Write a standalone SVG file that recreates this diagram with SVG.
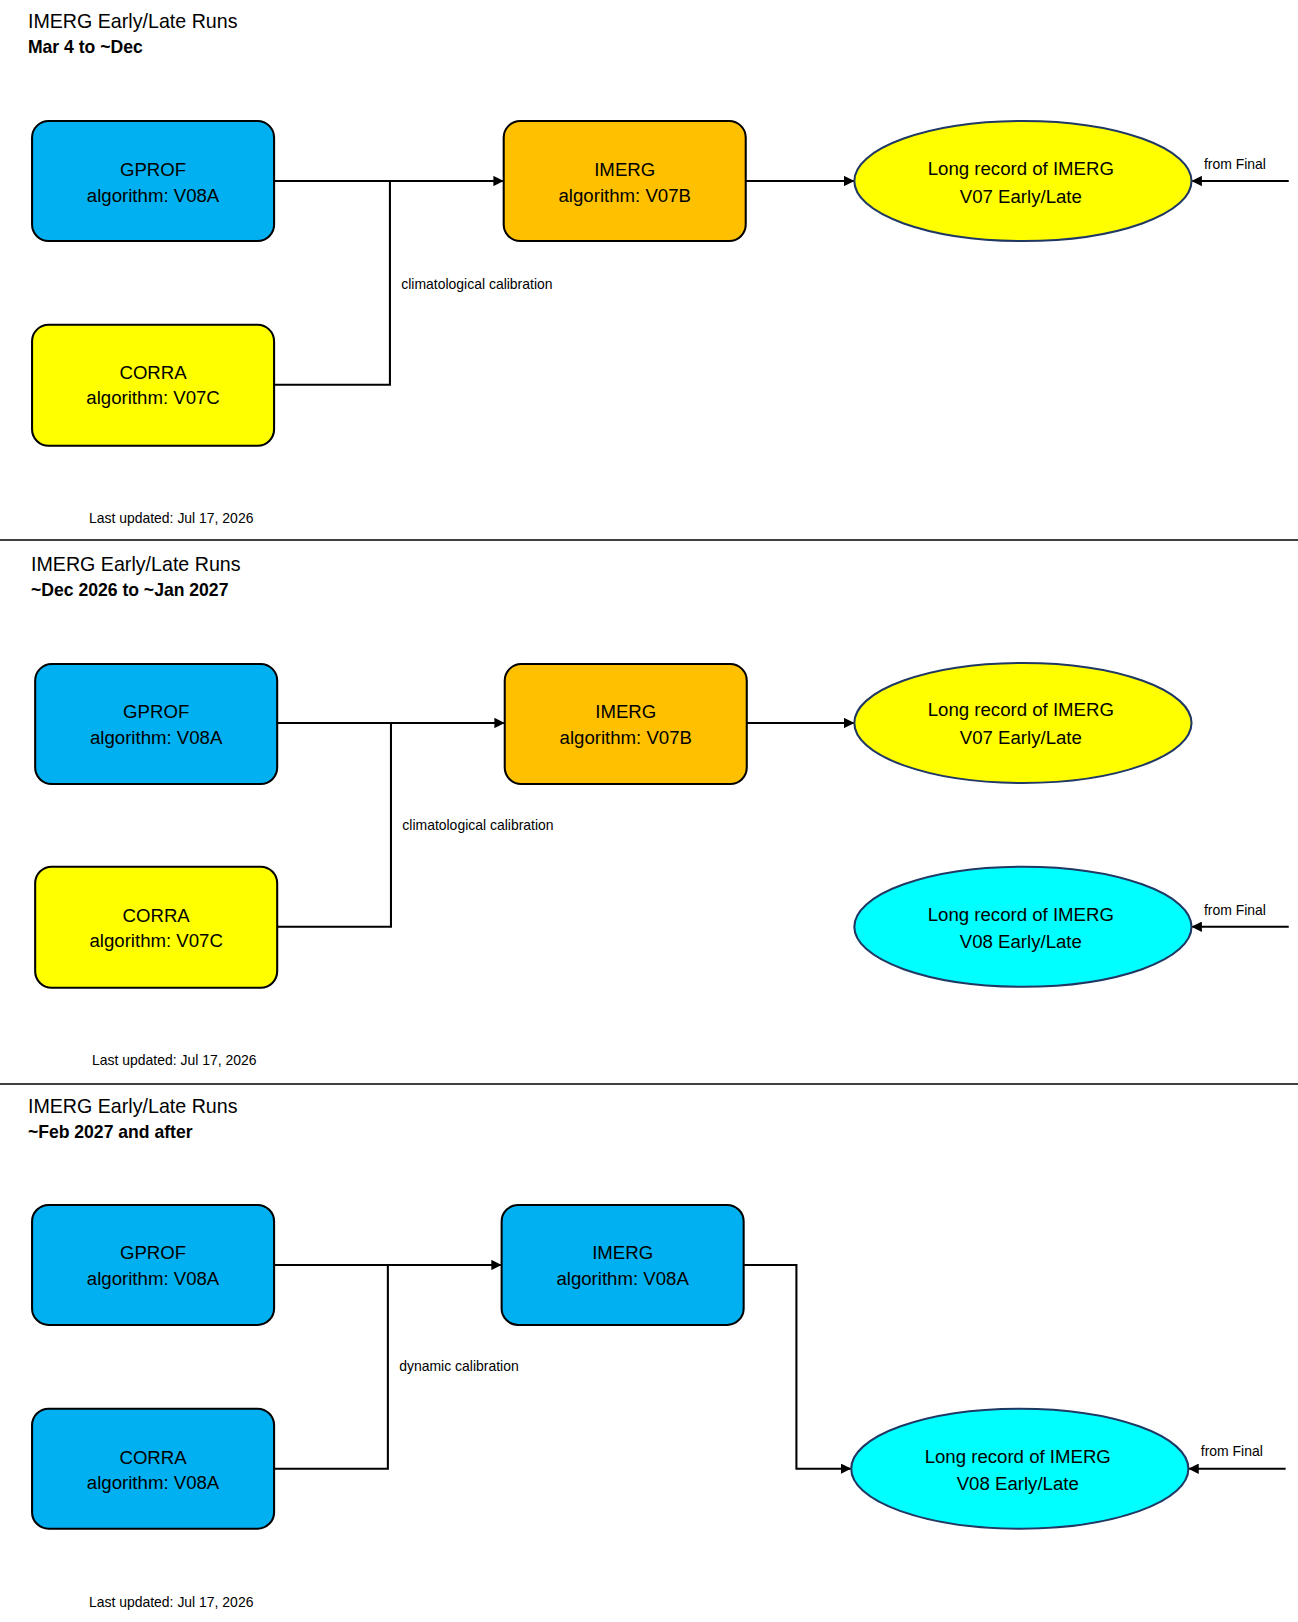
<svg xmlns="http://www.w3.org/2000/svg" width="1298" height="1622" viewBox="0 0 1298 1622">
<style>
text{font-family:"Liberation Sans",Arial,sans-serif;fill:#000}
.t{font-size:19px}.s{font-size:17px;font-weight:bold}
.n{font-size:18px;text-anchor:middle}
.l{font-size:13.5px}
.box{stroke:#000;stroke-width:2}
.c{fill:none;stroke:#000;stroke-width:2}
.b{fill:#00B0F0}.o{fill:#FFC000}.y{fill:#FFFF00}.cy{fill:#00FFFF}
.e{stroke:#1F3864;stroke-width:2}
</style>
<defs><marker id="a" viewBox="0 0 10 10" refX="9" refY="5" markerWidth="5" markerHeight="5" orient="auto"><path d="M0,0L10,5L0,10z" fill="#000"/></marker></defs>
<rect width="1298" height="1622" fill="#fff"/>
<g transform="scale(1.0343)">
<!-- Panel 1 -->
<g id="p1-title"><text class="t" x="27" y="27">IMERG Early/Late Runs</text><text class="s" x="27" y="51">Mar 4 to ~Dec</text></g>
<g id="p1-gprof"><rect class="box b" x="31" y="117" width="234" height="116" rx="16"/><text class="n" x="148" y="170">GPROF</text><text class="n" x="148" y="195">algorithm: V08A</text></g>
<g id="p1-corra"><rect class="box y" x="31" y="314" width="234" height="117" rx="16"/><text class="n" x="148" y="366">CORRA</text><text class="n" x="148" y="391">algorithm: V07C</text></g>
<g id="p1-imerg"><rect class="box o" x="487" y="117" width="234" height="116" rx="16"/><text class="n" x="604" y="170">IMERG</text><text class="n" x="604" y="195">algorithm: V07B</text></g>
<g id="p1-long"><ellipse class="e y" cx="989" cy="175" rx="163" ry="58"/><text class="n" x="987" y="169">Long record of IMERG</text><text class="n" x="987" y="196">V07 Early/Late</text></g>
<g id="p1-conn">
<path class="c" d="M265,175H486" marker-end="url(#a)"/>
<path class="c" d="M265,372H377V175"/>
<path class="c" d="M721,175H825" marker-end="url(#a)"/>
<path class="c" d="M1246,175H1153" marker-end="url(#a)"/>
<text class="l" x="388" y="279">climatological calibration</text>
<text class="l" x="1164" y="163">from Final</text>
</g>
<text class="l" x="86" y="506">Last updated: Jul 17, 2026</text>
<line x1="0" y1="522" x2="1255" y2="522" stroke="#000" stroke-width="1.5"/>
<!-- Panel 2 -->
<g id="p2-title"><text class="t" x="30" y="552">IMERG Early/Late Runs</text><text class="s" x="30" y="576">~Dec 2026 to ~Jan 2027</text></g>
<g id="p2-gprof"><rect class="box b" x="34" y="642" width="234" height="116" rx="16"/><text class="n" x="151" y="694">GPROF</text><text class="n" x="151" y="719">algorithm: V08A</text></g>
<g id="p2-corra"><rect class="box y" x="34" y="838" width="234" height="117" rx="16"/><text class="n" x="151" y="891">CORRA</text><text class="n" x="151" y="916">algorithm: V07C</text></g>
<g id="p2-imerg"><rect class="box o" x="488" y="642" width="234" height="116" rx="16"/><text class="n" x="605" y="694">IMERG</text><text class="n" x="605" y="719">algorithm: V07B</text></g>
<g id="p2-long7"><ellipse class="e y" cx="989" cy="699" rx="163" ry="58"/><text class="n" x="987" y="692">Long record of IMERG</text><text class="n" x="987" y="719">V07 Early/Late</text></g>
<g id="p2-long8"><ellipse class="e cy" cx="989" cy="896" rx="163" ry="58"/><text class="n" x="987" y="890">Long record of IMERG</text><text class="n" x="987" y="917">V08 Early/Late</text></g>
<g id="p2-conn">
<path class="c" d="M268,699H487" marker-end="url(#a)"/>
<path class="c" d="M268,896H378V699"/>
<path class="c" d="M722,699H825" marker-end="url(#a)"/>
<path class="c" d="M1246,896H1153" marker-end="url(#a)"/>
<text class="l" x="389" y="802">climatological calibration</text>
<text class="l" x="1164" y="885">from Final</text>
</g>
<text class="l" x="89" y="1030">Last updated: Jul 17, 2026</text>
<line x1="0" y1="1048" x2="1255" y2="1048" stroke="#000" stroke-width="1.5"/>
<!-- Panel 3 -->
<g id="p3-title"><text class="t" x="27" y="1076">IMERG Early/Late Runs</text><text class="s" x="27" y="1100">~Feb 2027 and after</text></g>
<g id="p3-gprof"><rect class="box b" x="31" y="1165" width="234" height="116" rx="16"/><text class="n" x="148" y="1217">GPROF</text><text class="n" x="148" y="1242">algorithm: V08A</text></g>
<g id="p3-corra"><rect class="box b" x="31" y="1362" width="234" height="116" rx="16"/><text class="n" x="148" y="1415">CORRA</text><text class="n" x="148" y="1440">algorithm: V08A</text></g>
<g id="p3-imerg"><rect class="box b" x="485" y="1165" width="234" height="116" rx="16"/><text class="n" x="602" y="1217">IMERG</text><text class="n" x="602" y="1242">algorithm: V08A</text></g>
<g id="p3-long8"><ellipse class="e cy" cx="986" cy="1420" rx="163" ry="58"/><text class="n" x="984" y="1414">Long record of IMERG</text><text class="n" x="984" y="1441">V08 Early/Late</text></g>
<g id="p3-conn">
<path class="c" d="M265,1223H484" marker-end="url(#a)"/>
<path class="c" d="M265,1420H375V1223"/>
<path class="c" d="M719,1223H770V1420H822" marker-end="url(#a)"/>
<path class="c" d="M1243,1420H1150" marker-end="url(#a)"/>
<text class="l" x="386" y="1326">dynamic calibration</text>
<text class="l" x="1161" y="1408">from Final</text>
</g>
<text class="l" x="86" y="1554">Last updated: Jul 17, 2026</text>
</g>
</svg>
